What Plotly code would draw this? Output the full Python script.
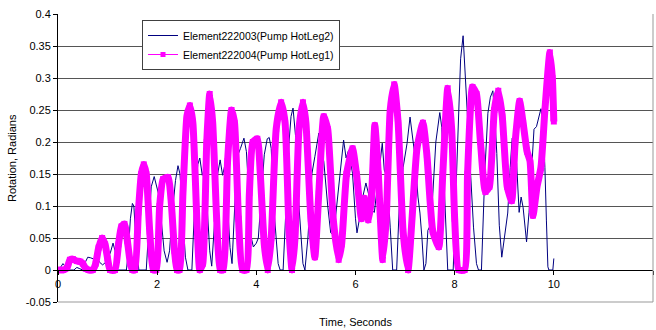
import plotly.graph_objects as go

# Time histories of pump rotation (radians) for the two hot-leg elements
t_hotleg2 = [0.00, 0.05, 0.10, 0.15, 0.20, 0.32, 0.38, 0.44, 0.50, 0.55, 0.60, 0.66, 0.72, 0.78,
             0.84, 0.90, 0.96, 1.02, 1.06, 1.11, 1.15, 1.19, 1.38, 1.42, 1.46, 1.50, 1.53, 1.56,
             1.60, 1.63, 1.78, 1.83, 1.88, 1.94, 1.98, 2.03, 2.08, 2.14, 2.20, 2.25, 2.30, 2.37,
             2.42, 2.46, 2.52, 2.57, 2.62, 2.70, 2.76, 2.82, 2.86, 2.91, 2.96, 3.01, 3.06, 3.10,
             3.16, 3.22, 3.27, 3.32, 3.37, 3.42, 3.47, 3.51, 3.56, 3.61, 3.68, 3.75, 3.80, 3.85,
             3.90, 3.94, 4.00, 4.04, 4.10, 4.16, 4.22, 4.26, 4.30, 4.36, 4.44, 4.48, 4.54, 4.60,
             4.66, 4.70, 4.74, 4.79, 4.86, 4.94, 4.98, 5.04, 5.12, 5.18, 5.26, 5.30, 5.36, 5.44,
             5.50, 5.56, 5.62, 5.68, 5.76, 5.81, 5.86, 5.90, 5.94, 6.00, 6.03, 6.08, 6.14, 6.21,
             6.26, 6.32, 6.38, 6.44, 6.48, 6.54, 6.58, 6.64, 6.70, 6.75, 6.83, 6.88, 6.96, 7.04,
             7.10, 7.16, 7.20, 7.26, 7.30, 7.34, 7.38, 7.42, 7.46, 7.51, 7.56, 7.62, 7.70, 7.74,
             7.80, 7.86, 7.97, 8.02, 8.07, 8.12, 8.17, 8.22, 8.30, 8.38, 8.44, 8.48, 8.54, 8.61,
             8.67, 8.72, 8.77, 8.81, 8.85, 8.90, 8.95, 9.01, 9.07, 9.12, 9.16, 9.20, 9.25, 9.30,
             9.34, 9.38, 9.45, 9.50, 9.55, 9.60, 9.65, 9.70, 9.74, 9.78, 9.82, 9.85, 9.88, 9.90,
             9.98, 10.00]
rot_hotleg2 = [0.000, 0.004, 0.010, 0.005, 0.000, 0.000, 0.004, 0.002, 0.000, 0.012, 0.020, 0.019,
               0.017, 0.020, 0.012, 0.008, 0.012, 0.020, 0.028, 0.042, 0.030, 0.000, 0.000, 0.030,
               0.080, 0.104, 0.100, 0.060, 0.020, 0.000, 0.000, 0.070, 0.130, 0.146, 0.135, 0.118,
               0.080, 0.030, 0.012, 0.030, 0.085, 0.140, 0.163, 0.150, 0.080, 0.020, 0.000, 0.000,
               0.110, 0.165, 0.175, 0.148, 0.162, 0.100, 0.030, 0.006, 0.080, 0.150, 0.172, 0.148,
               0.166, 0.100, 0.035, 0.010, 0.100, 0.176, 0.190, 0.206, 0.185, 0.120, 0.050, 0.036,
               0.042, 0.050, 0.120, 0.180, 0.205, 0.207, 0.190, 0.090, 0.010, 0.000, 0.000, 0.100,
               0.200, 0.240, 0.253, 0.210, 0.100, 0.010, 0.000, 0.050, 0.150, 0.177, 0.214, 0.190,
               0.170, 0.100, 0.058, 0.055, 0.100, 0.151, 0.203, 0.175, 0.187, 0.170, 0.151, 0.080,
               0.058, 0.080, 0.112, 0.136, 0.120, 0.094, 0.090, 0.130, 0.156, 0.198, 0.156, 0.145,
               0.067, 0.000, 0.000, 0.094, 0.160, 0.198, 0.239, 0.200, 0.177, 0.114, 0.089, 0.050,
               0.000, 0.010, 0.062, 0.070, 0.120, 0.200, 0.246, 0.223, 0.110, 0.000, 0.000, 0.100,
               0.220, 0.330, 0.366, 0.296, 0.180, 0.067, 0.010, 0.000, 0.000, 0.156, 0.245, 0.270,
               0.280, 0.240, 0.182, 0.070, 0.020, 0.058, 0.089, 0.160, 0.206, 0.200, 0.166, 0.090,
               0.114, 0.098, 0.044, 0.090, 0.151, 0.220, 0.224, 0.240, 0.252, 0.230, 0.160, 0.078,
               0.005, 0.000, 0.000, 0.018]

t_hotleg1 = [0.00, 0.10, 0.18, 0.24, 0.30, 0.38, 0.45, 0.50, 0.56, 0.62, 0.70, 0.76, 0.82, 0.89,
             0.95, 1.00, 1.05, 1.15, 1.22, 1.28, 1.34, 1.40, 1.46, 1.50, 1.55, 1.62, 1.68, 1.73,
             1.78, 1.85, 1.92, 1.98, 2.05, 2.12, 2.22, 2.28, 2.35, 2.40, 2.45, 2.52, 2.60, 2.66,
             2.72, 2.80, 2.86, 2.92, 3.00, 3.06, 3.12, 3.20, 3.27, 3.33, 3.42, 3.50, 3.56, 3.64,
             3.72, 3.80, 3.86, 3.93, 4.02, 4.08, 4.16, 4.23, 4.30, 4.40, 4.50, 4.58, 4.66, 4.72,
             4.78, 4.86, 4.94, 5.00, 5.10, 5.18, 5.26, 5.36, 5.44, 5.55, 5.66, 5.72, 5.82, 5.94,
             6.02, 6.12, 6.18, 6.26, 6.32, 6.39, 6.46, 6.55, 6.62, 6.70, 6.78, 6.86, 6.96, 7.06,
             7.14, 7.24, 7.36, 7.44, 7.56, 7.68, 7.76, 7.86, 7.94, 8.00, 8.08, 8.20, 8.26, 8.36,
             8.44, 8.52, 8.62, 8.70, 8.80, 8.88, 8.96, 9.06, 9.15, 9.22, 9.31, 9.38, 9.46, 9.52,
             9.58, 9.66, 9.74, 9.82, 9.92, 9.97, 10.00]
rot_hotleg1 = [0.000, 0.000, 0.003, 0.016, 0.017, 0.014, 0.013, 0.010, 0.002, 0.000, 0.000, 0.010,
               0.035, 0.050, 0.040, 0.018, 0.000, 0.000, 0.040, 0.068, 0.072, 0.045, 0.010, 0.000,
               0.000, 0.090, 0.150, 0.165, 0.150, 0.060, 0.000, 0.000, 0.100, 0.142, 0.145, 0.110,
               0.030, 0.000, 0.000, 0.120, 0.240, 0.257, 0.230, 0.080, 0.000, 0.010, 0.200, 0.275,
               0.230, 0.080, 0.000, 0.000, 0.170, 0.250, 0.230, 0.080, 0.000, 0.000, 0.120, 0.200,
               0.205, 0.150, 0.040, 0.000, 0.050, 0.220, 0.262, 0.230, 0.060, 0.000, 0.050, 0.220,
               0.262, 0.230, 0.080, 0.020, 0.120, 0.240, 0.220, 0.080, 0.016, 0.040, 0.150, 0.190,
               0.150, 0.080, 0.112, 0.078, 0.110, 0.226, 0.150, 0.016, 0.080, 0.250, 0.290, 0.230,
               0.060, 0.000, 0.080, 0.190, 0.230, 0.180, 0.060, 0.036, 0.150, 0.284, 0.220, 0.080,
               0.000, 0.000, 0.150, 0.286, 0.275, 0.200, 0.122, 0.130, 0.250, 0.280, 0.240, 0.130,
               0.108, 0.200, 0.264, 0.230, 0.185, 0.170, 0.085, 0.130, 0.160, 0.250, 0.340, 0.300,
               0.232]

name_hotleg2 = "Element222003(Pump HotLeg2)"
name_hotleg1 = "Element222004(Pump HotLeg1)"

y_ticks = [-0.05, 0, 0.05, 0.1, 0.15, 0.2, 0.25, 0.3, 0.35, 0.4]
y_tick_text = ["-0.05", "0", "0.05", "0.1", "0.15", "0.2", "0.25", "0.3", "0.35", "0.4"]
y_grid = [0.05, 0.1, 0.15, 0.2, 0.25, 0.3, 0.35]
x_ticks = [0, 2, 4, 6, 8, 10, 12]

Y_MIN, Y_MAX = -0.05, 0.4
NAVY = "#000080"
MAGENTA = "#FF00FF"
FONT = "Liberation Sans, Arial, sans-serif"

fig = go.Figure()

# empty trace that keeps the labelled y axis active
fig.add_trace(go.Scatter(x=[None], y=[None], showlegend=False, hoverinfo="skip"))

fig.add_trace(go.Scatter(
    x=t_hotleg2, y=rot_hotleg2, name=name_hotleg2, mode="lines",
    line=dict(color=NAVY, width=1), yaxis="y2",
))
fig.add_trace(go.Scatter(
    x=t_hotleg1, y=rot_hotleg1, name=name_hotleg1, mode="lines+markers",
    line=dict(color=MAGENTA, width=7, shape="spline", smoothing=0.5),
    marker=dict(symbol="square", size=6, color=MAGENTA),
    showlegend=False, yaxis="y2",
))
# legend swatch for the magenta series: thin line with a square marker
fig.add_trace(go.Scatter(
    x=[None], y=[None], name=name_hotleg1, mode="lines+markers",
    line=dict(color=MAGENTA, width=1),
    marker=dict(symbol="square", size=5, color=MAGENTA),
    yaxis="y2",
))

fig.update_layout(
    width=656, height=330,
    margin=dict(l=58, r=3, t=14, b=28),
    paper_bgcolor="white", plot_bgcolor="white",
    font=dict(family=FONT, size=11, color="black"),
    showlegend=True,
    legend=dict(
        x=(142 - 58) / 595, y=1 - (20 - 14) / 288, xanchor="left", yanchor="top",
        bgcolor="white", bordercolor="#404040", borderwidth=1,
        font=dict(size=10.5), itemwidth=30, tracegroupgap=0,
    ),
    xaxis=dict(
        range=[0, 12], tickvals=x_ticks, ticktext=[str(v) for v in x_ticks],
        showgrid=False, zeroline=False, showline=True, linecolor="black", linewidth=1,
        ticks="outside", ticklen=4, tickcolor="black",
        anchor="free", position=(0 - Y_MIN) / (Y_MAX - Y_MIN),
    ),
    yaxis=dict(
        range=[Y_MIN, Y_MAX], tickvals=y_ticks, ticktext=y_tick_text,
        showgrid=False, zeroline=False, showline=True, linecolor="black", linewidth=1,
        ticks="outside", ticklen=4, tickcolor="black",
    ),
    yaxis2=dict(
        range=[Y_MIN, Y_MAX], overlaying="y", tickvals=y_grid, showticklabels=False,
        showgrid=True, gridcolor="#555555", gridwidth=1, zeroline=False, showline=False,
    ),
    shapes=[
        dict(type="line", xref="paper", yref="paper", x0=0, x1=1, y0=0, y1=0,
             line=dict(color="#999999", width=1)),
        dict(type="line", xref="paper", yref="paper", x0=1, x1=1, y0=0, y1=1,
             line=dict(color="#999999", width=1)),
    ],
    annotations=[
        dict(text="Rotation, Radians", xref="paper", yref="paper", x=0, y=0.5,
             xanchor="center", yanchor="middle",
             xshift=-46, textangle=-90, showarrow=False, font=dict(size=11)),
        dict(text="Time, Seconds", xref="paper", yref="paper", x=0.5, y=0,
             xanchor="center", yanchor="middle",
             yshift=-20, showarrow=False, font=dict(size=11)),
    ],
)

fig.write_html("out.html")
